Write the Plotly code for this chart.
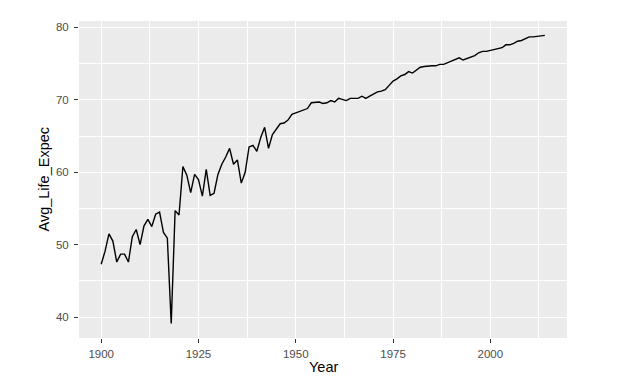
import plotly.graph_objects as go

years = list(range(1900, 2015))
life_expec = [
    47.3, 49.1, 51.5, 50.5, 47.6, 48.7, 48.7, 47.6, 51.1, 52.1,
    50.0, 52.6, 53.5, 52.5, 54.2, 54.5, 51.7, 50.9, 39.1, 54.7,
    54.1, 60.8, 59.6, 57.2, 59.7, 59.0, 56.7, 60.4, 56.8, 57.1,
    59.7, 61.1, 62.1, 63.3, 61.1, 61.7, 58.5, 60.0, 63.5, 63.7,
    62.9, 64.8, 66.2, 63.3, 65.2, 65.9, 66.7, 66.8, 67.2, 68.0,
    68.2, 68.4, 68.6, 68.8, 69.6, 69.6, 69.7, 69.5, 69.6, 69.9,
    69.7, 70.2, 70.1, 69.9, 70.2, 70.2, 70.2, 70.5, 70.2, 70.5,
    70.8, 71.1, 71.2, 71.4, 72.0, 72.6, 72.9, 73.3, 73.5, 73.9,
    73.7, 74.1, 74.5, 74.6, 74.7, 74.7, 74.7, 74.9, 74.9, 75.1,
    75.4, 75.5, 75.8, 75.5, 75.7, 75.8, 76.1, 76.5, 76.7, 76.7,
    76.8, 77.0, 77.0, 77.2, 77.6, 77.6, 77.8, 78.1, 78.2, 78.5,
    78.7, 78.7, 78.8, 78.8, 78.9,
]
x_ticks = [1900, 1925, 1950, 1975, 2000]
y_ticks = [40, 50, 60, 70, 80]

xmin, xmax = min(years), max(years)
ymin, ymax = min(life_expec), max(life_expec)
xpad = (xmax - xmin) * 0.05
ypad = (ymax - ymin) * 0.05

fig = go.Figure()
fig.add_trace(go.Scatter(x=years, y=life_expec, mode="lines",
                         line=dict(color="black", width=1.4),
                         hoverinfo="x+y", showlegend=False))

FONT = "Liberation Sans, Arial, sans-serif"
axis_common = dict(
    showgrid=True, gridcolor="white", gridwidth=1.4,
    zeroline=False, showline=False,
    ticks="outside", ticklen=4, tickwidth=1.1, tickcolor="#333333",
    tickfont=dict(family=FONT, size=11.5, color="#4D4D4D"),
)

fig.update_layout(
    width=621, height=384,
    margin=dict(l=79, r=54, t=21, b=46),
    paper_bgcolor="white", plot_bgcolor="#EBEBEB",
    font=dict(family=FONT),
    xaxis=dict(range=[xmin - xpad, xmax + xpad], tickvals=x_ticks,
               minor=dict(dtick=12.5, tick0=1887.5, showgrid=True,
                          gridcolor="white", gridwidth=0.7, ticks=""),
               ticklabelstandoff=1,
               **axis_common),
    yaxis=dict(range=[ymin - ypad, ymax + ypad], tickvals=y_ticks,
               minor=dict(dtick=5, tick0=35, showgrid=True,
                          gridcolor="white", gridwidth=0.7, ticks=""),
               ticklabelstandoff=3,
               **axis_common),
    annotations=[
        dict(text="Year", xref="paper", yref="paper", x=0.5, y=0.0,
             yshift=-29, showarrow=False, xanchor="center", yanchor="middle",
             font=dict(family=FONT, size=14.5, color="black")),
        dict(text="Avg_Life_Expec", xref="paper", yref="paper", x=0, y=0.5,
             xshift=-36, showarrow=False, textangle=-90,
             xanchor="center", yanchor="middle",
             font=dict(family=FONT, size=14.5, color="black")),
    ],
)

fig.write_html("out.html", config={"displayModeBar": False},
               post_script="document.body.style.margin='0';document.body.style.overflow='hidden';")
